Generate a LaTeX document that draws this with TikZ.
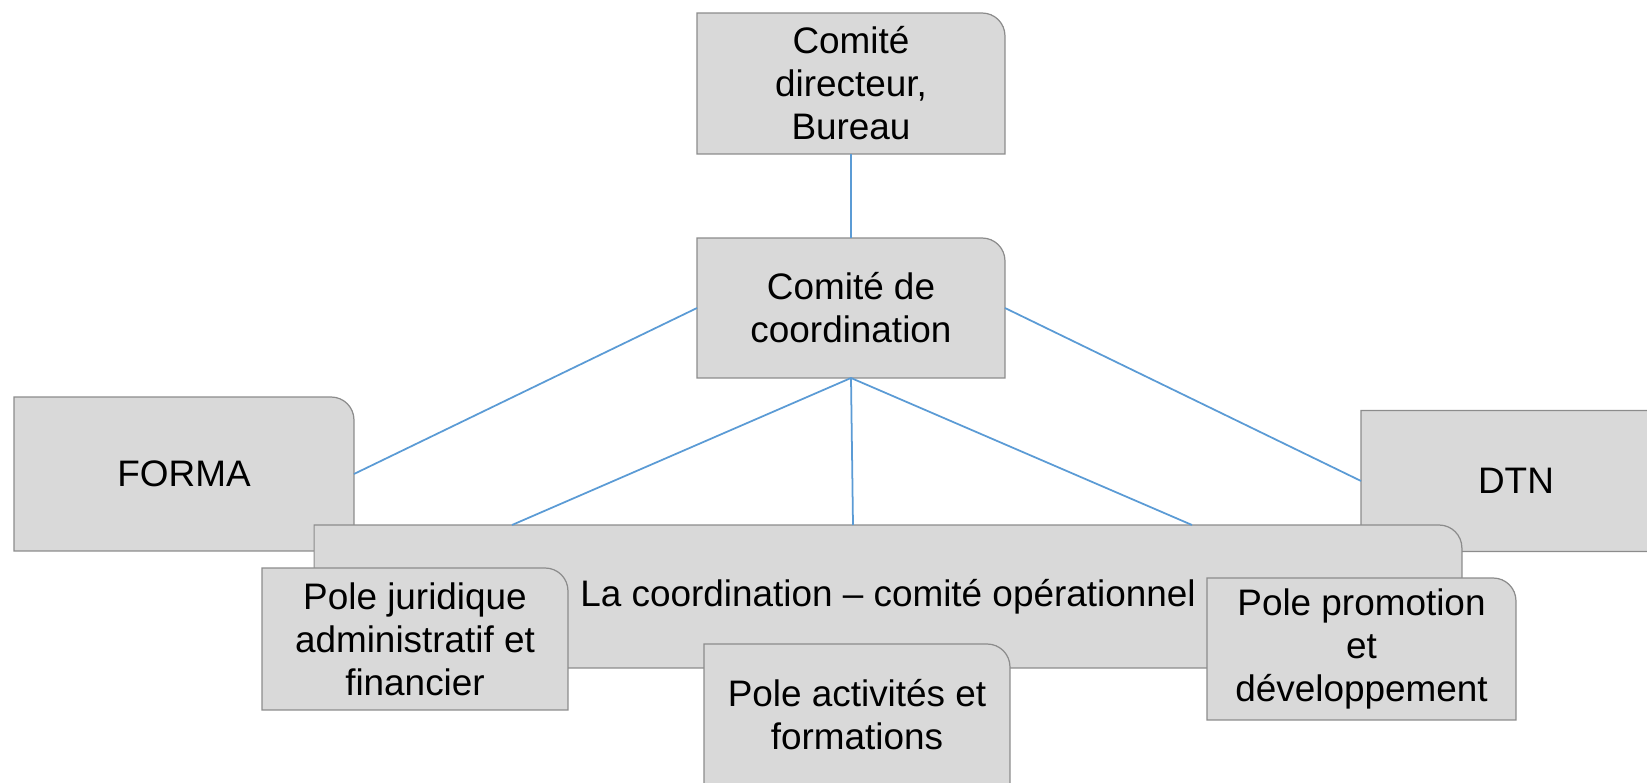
\documentclass[tikz,border=0pt]{standalone}
\usepackage{fontspec}
\setmainfont{Liberation Sans}
\usepackage{tikz}
\usetikzlibrary{positioning}

\definecolor{boxfill}{HTML}{D9D9D9}
\definecolor{boxline}{HTML}{8C8C8C}
\definecolor{linkblue}{HTML}{5B9BD5}

% rectangle with only the top right corner rounded
\newcommand{\cornerradius}{13pt}
\makeatletter
\pgfdeclareshape{corner box}{
  \inheritsavedanchors[from=rectangle]
  \inheritanchorborder[from=rectangle]
  \inheritanchor[from=rectangle]{center}
  \inheritanchor[from=rectangle]{text}
  \inheritanchor[from=rectangle]{north}
  \inheritanchor[from=rectangle]{south}
  \inheritanchor[from=rectangle]{east}
  \inheritanchor[from=rectangle]{west}
  \inheritanchor[from=rectangle]{north east}
  \inheritanchor[from=rectangle]{north west}
  \inheritanchor[from=rectangle]{south east}
  \inheritanchor[from=rectangle]{south west}
  \backgroundpath{%
    \southwest \edef\cbleft{\the\pgf@x}\edef\cbbottom{\the\pgf@y}%
    \northeast \edef\cbright{\the\pgf@x}\edef\cbtop{\the\pgf@y}%
    \pgfpathmoveto{\pgfpoint{\cbleft}{\cbbottom}}%
    \pgfpathlineto{\pgfpoint{\cbleft}{\cbtop}}%
    \pgfpathlineto{\pgfpoint{\cbright-\cornerradius}{\cbtop}}%
    \pgfpatharc{90}{0}{\cornerradius}%
    \pgfpathlineto{\pgfpoint{\cbright}{\cbbottom}}%
    \pgfpathclose
  }
}
\makeatother

\begin{document}
\begin{tikzpicture}[x=0.02cm,y=-0.02cm,
                    main node/.style={corner box,draw=boxline,fill=boxfill,line width=0.7pt,inner sep=0pt,outer sep=0pt,align=center,font=\fontsize{21}{24.5}\selectfont,minimum width=6.16cm,minimum height=2.82cm},
                    link/.style={draw=linkblue,line width=1pt}]

  \useasboundingbox (0,0) rectangle (1647,783);
  \clip (0,0) rectangle (1647,783);

  \node[main node] (1) at (851,83.5) {Comité\\directeur,\\Bureau};
  \node[main node,minimum height=2.80cm] (2) at (851,308) {Comité de\\coordination};
  \node[main node,minimum width=6.8cm,minimum height=3.08cm] (3) at (184,474) {FORMA};
  \node[main node,minimum width=6.2cm] (4) at (1516,481) {DTN};
  \node[main node,minimum width=22.96cm,minimum height=2.86cm] (5) at (888,596.5) {La coordination -- comité opérationnel};
  \node[main node,minimum width=6.12cm,minimum height=2.84cm] (6) at (415,639) {Pole juridique\\administratif et\\financier};
  \node[main node,minimum width=6.12cm,minimum height=2.84cm] (7) at (857,715) {Pole activités et\\formations};
  \node[main node,minimum width=6.18cm,minimum height=2.84cm] (8) at (1361.5,649) {Pole promotion\\et\\développement};

  \coordinate (5a) at (512,525);
  \coordinate (5b) at (853,525);
  \coordinate (5c) at (1192,525);

  \path[link]
    (1.south) edge (2.north)
    (2.west) edge (3.east)
    (2.east) edge (4.west)
    (2.south) edge (5a)
              edge (5b)
              edge (5c);

\end{tikzpicture}
\end{document}
